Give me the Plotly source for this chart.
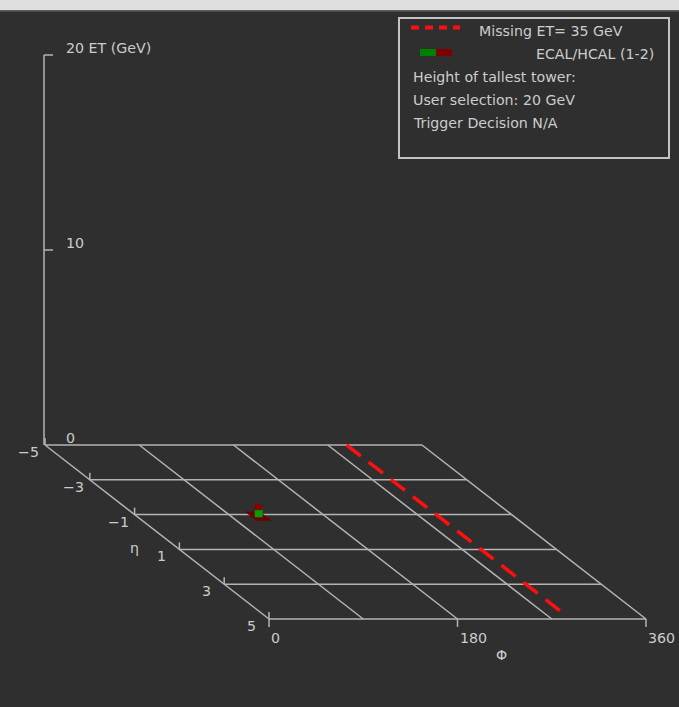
import plotly.graph_objects as go

# ---------------- data ----------------
phi_grid = [0, 90, 180, 270, 360]
eta_grid = [-5, -3, -1, 1, 3, 5]
phi_tick_vals = [0, 180, 360]
phi_tick_labels = ["0", "180", "360"]
eta_tick_labels = ["-5", "-3", "-1", "1", "3", "5"]
et_tick_vals = [0, 10, 20]
et_tick_labels = ["0", "10", "20 ET (GeV)"]
met_value = 35
met_phi = 288
met_eta_range = [-5, 4.6]
tower_eta = [-0.86]
tower_phi = [112, 119]
tower_ecal = [0.36]
tower_hcal = [0.3]
legend_lines = ["Height of tallest tower:", "User selection: 20 GeV", "Trigger Decision N/A"]

# ---------------- oblique lego projection (acts as the scale) ----------------
X0, Y0 = 45.0, 445.0
SX = 377.0 / 360.0
EX, EY = 22.4, 17.4
EZ = 19.5


def px(phi, eta, et=0.0):
    return X0 + phi * SX + (eta + 5) * EX


def py(phi, eta, et=0.0):
    return Y0 + (eta + 5) * EY - et * EZ


BG = "#2f2f2f"
GRID = "#b4b4b4"
TXT = "#cccccc"
FONT = "DejaVu Sans"
FS = 14.2

fig = go.Figure()


def seg(xs, ys, color=GRID, width=1.5, dash=None):
    fig.add_trace(go.Scatter(x=xs, y=ys, mode="lines", hoverinfo="skip",
                             showlegend=False,
                             line=dict(color=color, width=width, dash=dash)))


def poly(xs, ys, color):
    fig.add_trace(go.Scatter(x=xs + xs[:1], y=ys + ys[:1], fill="toself", fillcolor=color,
                             mode="lines", line=dict(color=color, width=0.5),
                             hoverinfo="skip", showlegend=False))


# grid: constant-phi lines
for p in phi_grid:
    seg([px(p, eta_grid[0]), px(p, eta_grid[-1])], [py(p, eta_grid[0]), py(p, eta_grid[-1])])
# grid: constant-eta lines
for e in eta_grid:
    seg([px(0, e), px(360, e)], [py(0, e), py(360, e)])

# eta ticks
for e in eta_grid:
    seg([px(0, e), px(0, e)], [py(0, e), py(0, e) - 7])
# phi ticks
for p in phi_tick_vals:
    seg([px(p, 5), px(p, 5)], [py(p, 5), py(p, 5) + 8])

# ET axis
seg([px(0, -5) - 1, px(0, -5) - 1], [py(0, -5, 0), py(0, -5, et_tick_vals[-1])])
for v in et_tick_vals[1:]:
    seg([px(0, -5) - 1, px(0, -5) + 8], [py(0, -5, v), py(0, -5, v)])

# MET line
seg([px(met_phi, met_eta_range[0]), px(met_phi, met_eta_range[1])],
    [py(met_phi, met_eta_range[0]), py(met_phi, met_eta_range[1])],
    color="#ff1010", width=3.5, dash="18px,10px")

# tower (lego box)
te = tower_eta[0]
p0, p1 = tower_phi
ecal, hcal = tower_ecal[0], tower_hcal[0]
# base footprint (shadow)
b_e0, b_e1, b_p0, b_p1 = te - 0.3, te + 0.2, p0 - 3, p1 + 4
poly([px(b_p0, b_e0), px(b_p1, b_e0), px(b_p1, b_e1), px(b_p0, b_e1)],
     [py(b_p0, b_e0), py(b_p1, b_e0), py(b_p1, b_e1), py(b_p0, b_e1)], "#6a0000")
# ecal (green, bottom)
poly([px(p0, te), px(p1, te), px(p1, te), px(p0, te)],
     [py(p0, te, 0), py(p1, te, 0), py(p1, te, ecal), py(p0, te, ecal)], "#00a000")
# hcal (dark red, stacked on top)
poly([px(p0, te), px(p1 - 1, te), px(p1 - 1, te), px(p0, te)],
     [py(p0, te, ecal), py(p1 - 1, te, ecal), py(p1 - 1, te, ecal + hcal), py(p0, te, ecal + hcal)],
     "#8a0000")

annotations = []


def txt(x, y, s, anchor="left", size=FS):
    annotations.append(dict(x=x, y=y, xref="x", yref="y", text=s, showarrow=False,
                            xanchor=anchor, yanchor="middle",
                            font=dict(family=FONT, size=size, color=TXT)))


# eta labels
for e, lab in zip(eta_grid, eta_tick_labels):
    off = 4 if e < 0 else 11
    txt(px(0, e) - off, py(0, e) + 7, lab.replace("-", "−"), anchor="right")
txt(128, 548, "η")
# phi labels
for p, lab in zip(phi_tick_vals, phi_tick_labels):
    txt(px(p, 5), py(p, 5) + 19, lab, anchor="left")
txt(501, 655, "Φ", anchor="center")
# ET labels
for v, lab in zip(et_tick_vals, et_tick_labels):
    txt(px(0, -5) + 19, py(0, -5, v) - 7, lab)

# legend box content
txt(477, 31, "Missing ET= %d GeV" % met_value)
txt(656, 54, "ECAL/HCAL (1-2)", anchor="right")
for i, s in enumerate(legend_lines):
    txt(411, 77 + 23 * i, s)

shapes = [
    dict(type="rect", xref="x", yref="y", x0=0, x1=679, y0=0, y1=10.5,
         fillcolor="#dfdfdf", line=dict(width=0), layer="above"),
    dict(type="line", xref="x", yref="y", x0=0, x1=679, y0=11, y1=11,
         line=dict(color="#555555", width=1.5), layer="above"),
    dict(type="rect", xref="x", yref="y", x0=399, x1=669, y0=18, y1=158,
         line=dict(color="#c4c4c4", width=2), fillcolor="rgba(0,0,0,0)"),
    dict(type="line", xref="x", yref="y", x0=411, x1=460, y0=27.5, y1=27.5,
         line=dict(color="#ff1010", width=4, dash="8px,6px")),
    dict(type="rect", xref="x", yref="y", x0=420, x1=436, y0=49, y1=56,
         fillcolor="#008000", line=dict(width=0)),
    dict(type="rect", xref="x", yref="y", x0=436, x1=452, y0=49, y1=56,
         fillcolor="#800000", line=dict(width=0)),
]

fig.update_layout(
    width=679, height=707,
    margin=dict(l=0, r=0, t=0, b=0),
    paper_bgcolor=BG, plot_bgcolor=BG,
    xaxis=dict(range=[0, 679], visible=False, fixedrange=True),
    yaxis=dict(range=[707, 0], visible=False, fixedrange=True),
    annotations=annotations, shapes=shapes, showlegend=False,
)

fig.write_html(
    "out.html",
    config={"displayModeBar": False},
    post_script=("document.body.style.margin='0';document.body.style.padding='0';"
                 "document.body.style.background='#2f2f2f';"
                 "document.documentElement.style.overflow='hidden';"),
)
